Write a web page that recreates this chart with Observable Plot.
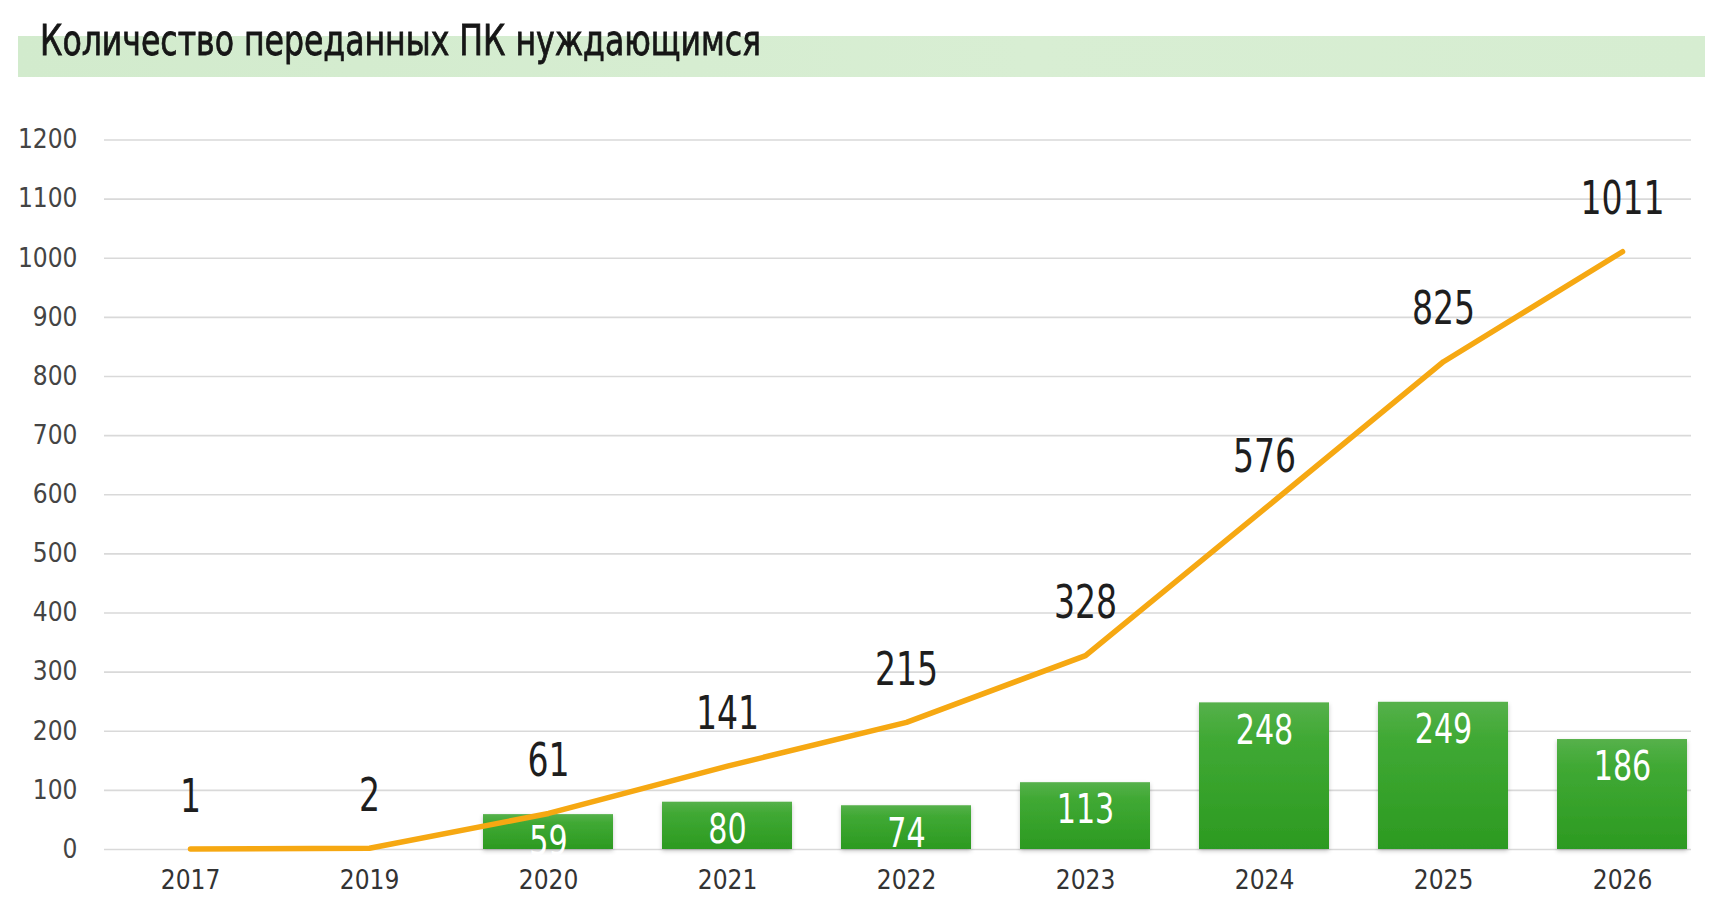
<!DOCTYPE html>
<html>
<head>
<meta charset="utf-8">
<script src="https://cdn.jsdelivr.net/npm/d3@7"></script>
<script src="https://cdn.jsdelivr.net/npm/@observablehq/plot@0.6"></script>
<style>
  html, body { margin: 0; padding: 0; background: #ffffff; }
  #wrap { position: relative; width: 1722px; height: 913px; overflow: hidden; }
  #head { position: relative; height: 100px; }
  #band { position: absolute; left: 18px; top: 36px; width: 1687px; height: 41px;
          background: linear-gradient(90deg, #d2ebcd 0%, #d8eed3 60%, #d6edd1 100%); }
  #title { position: absolute; left: 40px; top: 15px; font-family: "DejaVu Sans Condensed", "DejaVu Sans", sans-serif;
           font-size: 43px; color: #161616; white-space: nowrap; transform: scaleX(0.815); transform-origin: 0 0;
           -webkit-text-stroke: 0.8px #161616; }
</style>
</head>
<body>
<div id="wrap">
  <div id="head"><div id="band"></div><div id="title">Количество переданных ПК нуждающимся</div></div>
  <div id="chart"></div>
</div>
<script>
const years = ["2017", "2019", "2020", "2021", "2022", "2023", "2024", "2025", "2026"];
const cumulative = [1, 2, 61, 141, 215, 328, 576, 825, 1011];
const barYears = ["2020", "2021", "2022", "2023", "2024", "2025", "2026"];
const barValues = [59, 80, 74, 113, 248, 249, 186];
const yTicks = [0, 100, 200, 300, 400, 500, 600, 700, 800, 900, 1000, 1100, 1200];

const lineData = years.map((y, i) => ({year: y, value: cumulative[i]}));
const barData = barYears.map((y, i) => ({year: y, value: barValues[i]}));

const font = '"DejaVu Sans Condensed", "DejaVu Sans", sans-serif';

const svg = Plot.plot({
  width: 1722,
  height: 813,
  marginLeft: 104,
  marginRight: 31,
  marginTop: 39.5,
  marginBottom: 64,
  style: { fontFamily: font, fontSize: "26px", color: "#3a3a3a", background: "transparent", overflow: "visible" },
  x: { domain: years, range: [99, 1713], paddingInner: 0.275, paddingOuter: 0.1375, tickSize: 0, tickPadding: 21, label: null },
  y: { domain: [0, 1200], ticks: yTicks, tickFormat: d => String(d), tickSize: 0, tickPadding: 27, label: null },
  marks: [
    Plot.ruleY(yTicks, { stroke: "#d9d9d9", strokeWidth: 1.6 }),
    Plot.barY(barData, { x: "year", y: "value", fill: "url(#barGrad)" }),
    Plot.lineY(lineData, { x: "year", y: "value", stroke: "#f6a812", strokeWidth: 5.5, strokeLinecap: "round", strokeLinejoin: "round" }),
    Plot.text(barData, { x: "year", y: "value", text: d => String(d.value), dy: 28, fill: "#ffffff", fontSize: 40, fontFamily: font, className: "barlab" }),
    Plot.text(lineData, { x: "year", y: "value", text: d => String(d.value), dy: -52, fill: "#1e1e1e", fontSize: 46, fontFamily: font, className: "linelab" })
  ]
});

const s = d3.select(svg);
const defs = s.insert("defs", ":first-child");
const g = defs.append("linearGradient").attr("id", "barGrad").attr("x1", 0).attr("y1", 0).attr("x2", 0).attr("y2", 1);
g.append("stop").attr("offset", "0%").attr("stop-color", "#56b14b");
g.append("stop").attr("offset", "25%").attr("stop-color", "#40a934");
g.append("stop").attr("offset", "100%").attr("stop-color", "#2c9a21");
const f = defs.append("filter").attr("id", "barShadow").attr("x", "-10%").attr("y", "-10%").attr("width", "120%").attr("height", "125%");
f.append("feDropShadow").attr("dx", 0).attr("dy", 2).attr("stdDeviation", 2).attr("flood-color", "#000").attr("flood-opacity", 0.22);
s.selectAll("g[aria-label='bar'] rect").attr("filter", "url(#barShadow)");

function condense(sel, sx) {
  sel.each(function () {
    const t = d3.select(this);
    const ax = +t.attr("x") || 0, ay = +t.attr("y") || 0;
    const tr = t.attr("transform") || "";
    t.attr("transform", `${tr} translate(${ax},${ay}) scale(${sx},1) translate(${-ax},${-ay})`);
  });
}
condense(s.selectAll(".linelab text"), 0.8);
condense(s.selectAll(".barlab text"), 0.84);
s.selectAll("g[aria-label='x-axis tick label'] text").attr("fill", "#333");
s.selectAll("g[aria-label='y-axis tick label'] text").attr("fill", "#444");

document.getElementById("chart").appendChild(svg);
</script>
</body>
</html>
